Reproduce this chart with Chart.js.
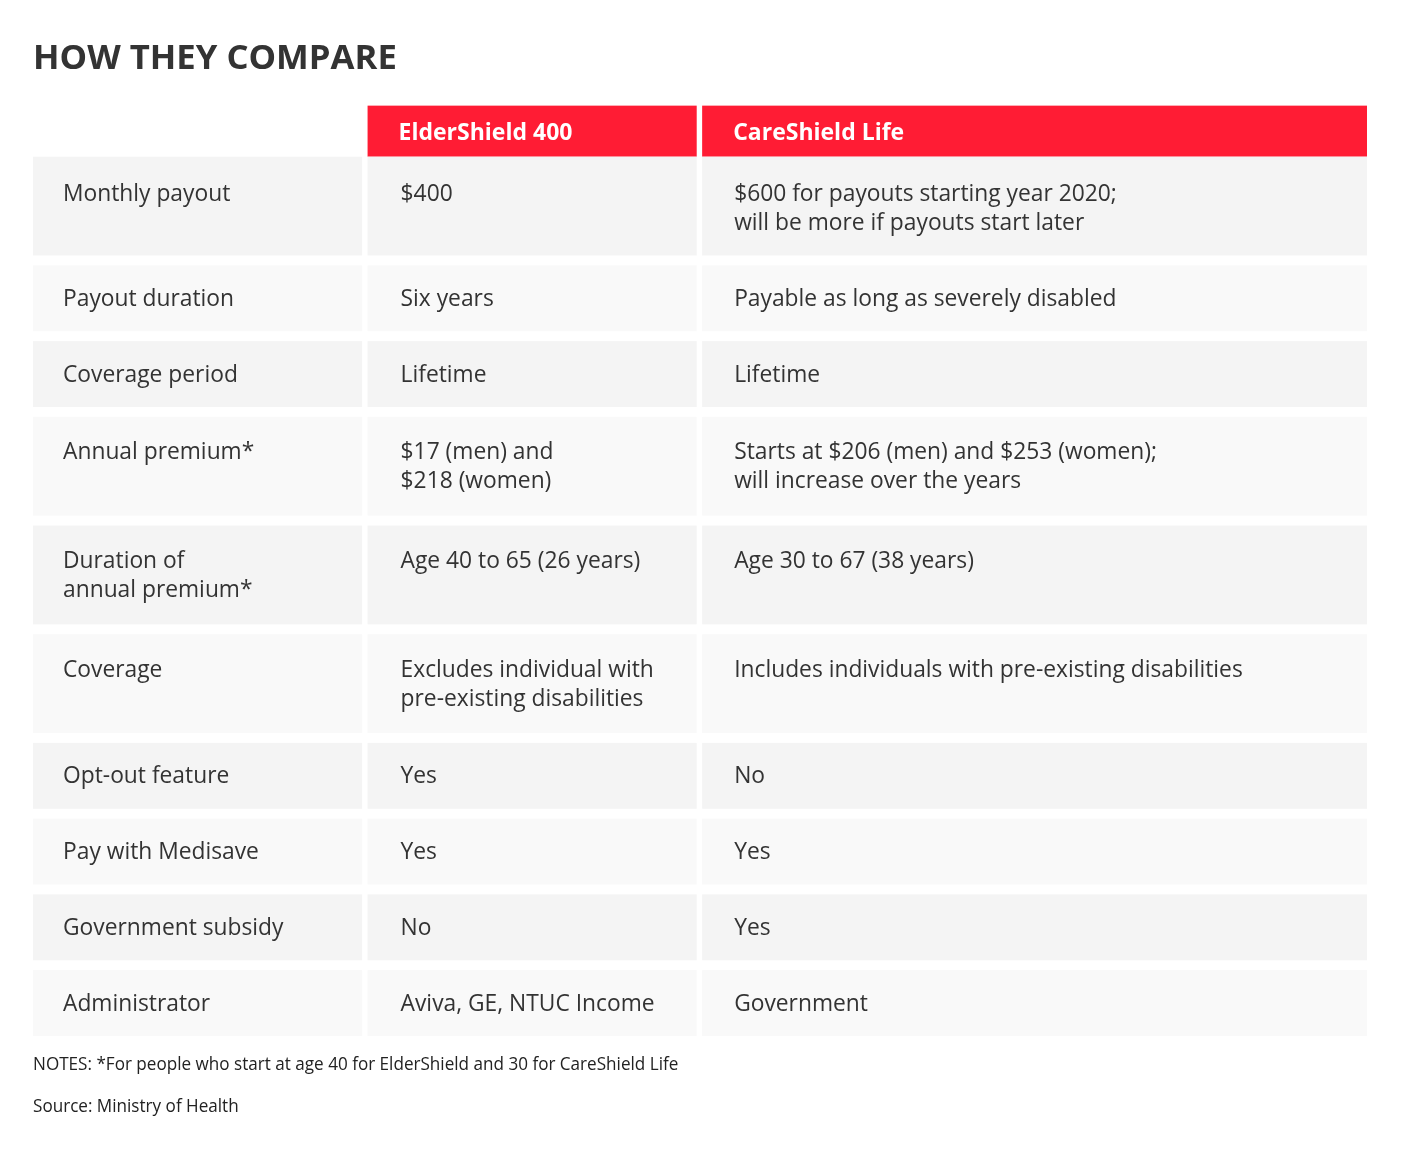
<!DOCTYPE html>
<html><head><meta charset="utf-8">
<script src="https://cdn.jsdelivr.net/npm/chart.js@4/dist/chart.umd.min.js"></script>
<style>html,body{margin:0;padding:0;background:#fff}canvas{display:block}</style>
</head><body>
<canvas id="c" width="1404" height="1156"></canvas>
<script>
// ---- data ----
const chartTitle = 'HOW THEY COMPARE';
const columns = ['', 'ElderShield 400', 'CareShield Life'];
const columnSpans = [1, 1, 2.02];
const rowLabels = [
  ['Monthly payout'],
  ['Payout duration'],
  ['Coverage period'],
  ['Annual premium*'],
  ['Duration of', 'annual premium*'],
  ['Coverage'],
  ['Opt-out feature'],
  ['Pay with Medisave'],
  ['Government subsidy'],
  ['Administrator']
];
const elderShield400 = [
  ['$400'],
  ['Six years'],
  ['Lifetime'],
  ['$17 (men) and', '$218 (women)'],
  ['Age 40 to 65 (26 years)'],
  ['Excludes individual with', 'pre-existing disabilities'],
  ['Yes'],
  ['Yes'],
  ['No'],
  ['Aviva, GE, NTUC Income']
];
const careShieldLife = [
  ['$600 for payouts starting year 2020;', 'will be more if payouts start later'],
  ['Payable as long as severely disabled'],
  ['Lifetime'],
  ['Starts at $206 (men) and $253 (women);', 'will increase over the years'],
  ['Age 30 to 67 (38 years)'],
  ['Includes individuals with pre-existing disabilities'],
  ['No'],
  ['Yes'],
  ['Yes'],
  ['Government']
];
const notes = [
  'NOTES: *For people who start at age 40 for ElderShield and 30 for CareShield Life',
  'Source: Ministry of Health'
];

// ---- layout (style) ----
const HEADER_UNITS = 1.55;
const ROW_GAP_UNITS = 0.3;
const COL_GAP_UNITS = 0.0165;
const LINE_PX = 29;
const TEXT = '#333333';
const RED = '#ff1c34';
const ROW_BG = ['#f4f4f4', '#f9f9f9'];
const CELL_PAD_X = [30, 33, 32];
const FONT = '"Open Sans", "Noto Sans", sans-serif';

const tableCols = [rowLabels, elderShield400, careShieldLife];
const rowLines = rowLabels.map((_, i) => Math.max(...tableCols.map(c => c[i].length)));
const rowTops = [], rowBottoms = [];
let acc = HEADER_UNITS;
rowLines.forEach((n, i) => {
  if (i > 0) acc += ROW_GAP_UNITS;
  rowTops.push(acc);
  acc += n + 1;
  rowBottoms.push(acc);
});
const yMax = acc;
const colStarts = [], colEnds = [];
let cx = 0;
columnSpans.forEach((s, i) => {
  if (i > 0) cx += COL_GAP_UNITS;
  colStarts.push(cx);
  cx += s;
  colEnds.push(cx);
});
const xMax = cx;

const tablePlugin = {
  id: 'comparisonTable',
  beforeDraw(chart) {
    const ctx = chart.ctx;
    ctx.save();
    ctx.fillStyle = '#ffffff';
    ctx.fillRect(0, 0, chart.width, chart.height);
    ctx.restore();
  },
  beforeDatasetsDraw(chart) {
    const { ctx, scales: { x, y } } = chart;
    const px = v => x.getPixelForValue(v);
    const py = v => y.getPixelForValue(v);
    ctx.save();
    // header
    columns.forEach((name, c) => {
      if (!name) return;
      const x0 = px(colStarts[c]), x1 = px(colEnds[c]);
      const y0 = py(0), y1 = py(HEADER_UNITS);
      ctx.fillStyle = RED;
      ctx.fillRect(x0, y0, x1 - x0, y1 - y0);
      ctx.fillStyle = '#ffffff';
      ctx.font = 'bold 23px ' + FONT;
      ctx.textBaseline = 'alphabetic';
      ctx.textAlign = 'left';
      ctx.fillText(name, x0 + 31, y0 + 34);
    });
    // rows
    rowLines.forEach((n, r) => {
      const y0 = py(rowTops[r]), y1 = py(rowBottoms[r]);
      const h = y1 - y0;
      const base = y0 + (h - n * LINE_PX) / 2 + 22 + (r === 0 ? 2 : 0);
      tableCols.forEach((col, c) => {
        const x0 = px(colStarts[c]), x1 = px(colEnds[c]);
        ctx.fillStyle = ROW_BG[r % 2];
        ctx.fillRect(x0, y0, x1 - x0, h);
        ctx.fillStyle = TEXT;
        ctx.font = '22.8px ' + FONT;
        ctx.textBaseline = 'alphabetic';
        ctx.textAlign = 'left';
        col[r].forEach((line, k) => {
          ctx.fillText(line, x0 + CELL_PAD_X[c], base + k * LINE_PX);
        });
      });
    });
    ctx.restore();
  },
  afterDraw(chart) {
    const { ctx, chartArea } = chart;
    ctx.save();
    ctx.fillStyle = '#222222';
    ctx.font = '18px ' + FONT;
    ctx.textBaseline = 'alphabetic';
    ctx.textAlign = 'left';
    notes.forEach((t, i) => {
      ctx.save();
      ctx.translate(chartArea.left, chartArea.bottom + 34 + i * 42);
      ctx.scale(0.95, 1);
      ctx.fillText(t, 0, 0);
      ctx.restore();
    });
    ctx.restore();
  }
};

function draw() {
  new Chart(document.getElementById('c'), {
    type: 'scatter',
    data: { datasets: [{ data: [] }] },
    options: {
      responsive: false,
      animation: false,
      events: [],
      layout: { padding: { left: 33, right: 37, top: 0, bottom: 120 } },
      scales: {
        x: { type: 'linear', display: false, min: 0, max: xMax },
        y: { type: 'linear', display: false, min: 0, max: yMax, reverse: true }
      },
      plugins: {
        legend: { display: false },
        tooltip: { enabled: false },
        title: {
          display: true,
          text: chartTitle,
          align: 'start',
          color: TEXT,
          font: { family: FONT, size: 34.7, weight: 'bold', lineHeight: 1.2 },
          padding: { top: 38, bottom: 26 }
        }
      }
    },
    plugins: [tablePlugin]
  });
}
if (document.fonts && document.fonts.load) {
  Promise.all([
    document.fonts.load('23px "Open Sans"'),
    document.fonts.load('bold 23px "Open Sans"')
  ]).then(draw, draw);
} else { draw(); }
</script>
</body></html>
